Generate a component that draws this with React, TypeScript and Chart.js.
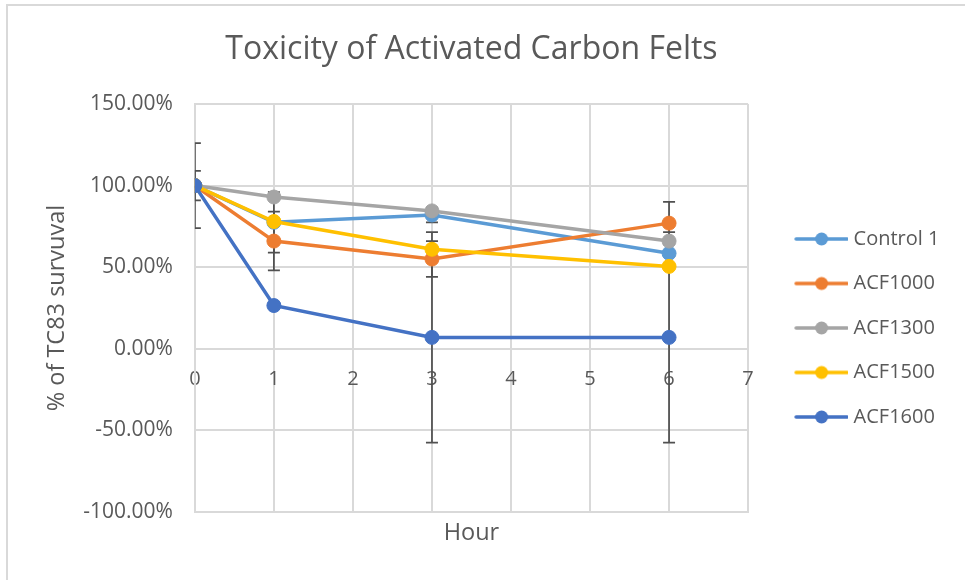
import React, { useEffect, useRef } from "react";
import { Chart, registerables } from "chart.js";

Chart.register(...registerables);

const TITLE = "Toxicity of Activated Carbon Felts";
const X_TITLE = "Hour";
const Y_TITLE = "% of TC83 survuval";

const hours = [0, 1, 3, 6];
const seriesNames = ["Control 1", "ACF1000", "ACF1300", "ACF1500", "ACF1600"];
const seriesColors = ["#5B9BD5", "#ED7D31", "#A5A5A5", "#FFC000", "#4472C4"];

const control1 = [100, 77.5, 82, 58.5];
const acf1000 = [100, 66, 55, 77];
const acf1300 = [100, 93, 84.5, 66];
const acf1500 = [100, 78, 61, 50.5];
const acf1600 = [100, 26.5, 7, 7];

const control1Err = [9, 18.5, 4.5, 0];
const acf1000Err = [0, 18, 11, 13];
const acf1300Err = [0, 0, 0, 0];
const acf1500Err = [0, 0, 0, 0];
const acf1600Err = [26, 0, 64.5, 64.5];

const seriesValues = [control1, acf1000, acf1300, acf1500, acf1600];
const seriesErrors = [control1Err, acf1000Err, acf1300Err, acf1500Err, acf1600Err];

const xMin = 0;
const xMax = 7;
const yMin = -100;
const yMax = 150;
const yStep = 50;

const FONT = '"Open Sans", "DejaVu Sans", sans-serif';
const TEXT = "#595959";
const GRID = "#d9d9d9";

const errorBarPlugin = {
  id: "errorBars",
  beforeDatasetsDraw(chart: any) {
    const { ctx, chartArea, scales } = chart;
    const xs = scales.x;
    const ys = scales.y;
    ctx.save();
    ctx.beginPath();
    ctx.rect(chartArea.left, chartArea.top, chartArea.right - chartArea.left, chartArea.bottom - chartArea.top);
    ctx.clip();
    ctx.strokeStyle = "#505050";
    ctx.lineWidth = 1.75;
    chart.data.datasets.forEach((ds: any) => {
      const errs = ds.errors as number[] | undefined;
      if (!errs) return;
      ds.data.forEach((pt: any, i: number) => {
        const e = errs[i];
        if (!e) return;
        const px = xs.getPixelForValue(pt.x);
        const top = ys.getPixelForValue(pt.y + e);
        const bot = ys.getPixelForValue(pt.y - e);
        ctx.beginPath();
        ctx.moveTo(px, top);
        ctx.lineTo(px, bot);
        ctx.moveTo(px - 6, top);
        ctx.lineTo(px + 6, top);
        ctx.moveTo(px - 6, bot);
        ctx.lineTo(px + 6, bot);
        ctx.stroke();
      });
    });
    ctx.restore();
  },
};

function makeLegendSymbol(color: string) {
  const c = document.createElement("canvas");
  c.width = 80;
  c.height = 16;
  const g = c.getContext("2d")!;
  g.strokeStyle = color;
  g.lineWidth = 3.5;
  g.lineCap = "round";
  g.beginPath();
  g.moveTo(28, 8);
  g.lineTo(79, 8);
  g.stroke();
  g.fillStyle = color;
  g.beginPath();
  g.arc(53.5, 8, 6.5, 0, Math.PI * 2);
  g.fill();
  return c;
}

export default function App() {
  const ref = useRef<HTMLCanvasElement>(null);

  useEffect(() => {
    const canvas = ref.current!;
    const symbols = seriesColors.map(makeLegendSymbol);
    const datasets = seriesNames.map((name, si) => ({
      type: "line" as const,
      label: name,
      data: hours.map((h, i) => ({ x: h, y: seriesValues[si][i] })),
      errors: seriesErrors[si],
      borderColor: seriesColors[si],
      backgroundColor: seriesColors[si],
      pointBackgroundColor: seriesColors[si],
      pointBorderColor: seriesColors[si],
      borderWidth: 3.5,
      pointRadius: 7,
      pointBorderWidth: 1,
      tension: 0,
      order: seriesNames.length - si,
    }));

    const chart = new Chart(canvas, {
      type: "line",
      data: { datasets: datasets as any },
      plugins: [errorBarPlugin as any],
      options: {
        animation: false,
        responsive: false,
        devicePixelRatio: 1,
        color: TEXT,
        font: { family: FONT, size: 20 },
        layout: { padding: { left: 43, right: 15.5, top: 0, bottom: 32.9 } },
        plugins: {
          title: {
            display: true,
            text: TITLE,
            fullSize: false,
            color: TEXT,
            font: { family: FONT, size: 32, weight: "normal" as any, lineHeight: 1.2 },
            padding: { top: 30.8, bottom: 34.8 },
          },
          legend: {
            display: true,
            position: "right",
            fullSize: false,
            align: "center",
            title: { display: true, text: "", padding: 14, font: { size: 10 } },
            labels: {
              usePointStyle: true,
              pointStyleWidth: 71,
              padding: 24.5,
              color: TEXT,
              font: { family: FONT, size: 20 },
              generateLabels: () =>
                seriesNames.map((name, i) => ({
                  text: name,
                  fillStyle: seriesColors[i],
                  strokeStyle: seriesColors[i],
                  lineWidth: 0,
                  pointStyle: symbols[i] as any,
                  hidden: false,
                  datasetIndex: i,
                  fontColor: TEXT,
                })),
            },
          },
          tooltip: { enabled: false },
        },
        scales: {
          x: {
            type: "linear",
            position: "bottom",
            min: xMin,
            max: xMax,
            ticks: { display: false, stepSize: 1 },
            grid: { color: GRID, lineWidth: 2, drawTicks: false },
            border: { display: true, color: GRID, width: 2 },
            title: {
              display: true,
              text: X_TITLE,
              color: TEXT,
              font: { family: FONT, size: 23.5, lineHeight: 1.2 },
              padding: { top: 6.9, bottom: 0 },
            },
          },
          xZero: {
            type: "linear",
            axis: "x",
            position: { y: 0 } as any,
            min: xMin,
            max: xMax,
            ticks: { stepSize: 1, padding: 18, color: TEXT, font: { family: FONT, size: 20 } },
            grid: { display: false, drawTicks: false },
            border: { display: false },
          },
          y: {
            type: "linear",
            position: "left",
            min: yMin,
            max: yMax,
            ticks: {
              stepSize: yStep,
              padding: 0,
              color: TEXT,
              font: { family: FONT, size: 21 },
              callback: (v: any) => Number(v).toFixed(2) + "%",
            },
            grid: { color: GRID, lineWidth: 2, drawTicks: true, tickLength: 22, tickColor: "rgba(0,0,0,0)" },
            border: { display: true, color: GRID, width: 2 },
            title: {
              display: true,
              text: Y_TITLE,
              color: TEXT,
              font: { family: FONT, size: 23.5, lineHeight: 1.2 },
              padding: { top: 0, bottom: 12 },
            },
          },
        } as any,
      },
    });
    return () => chart.destroy();
  }, []);

  return (
    <div
      style={{
        position: "absolute",
        left: 0,
        top: 0,
        width: 965,
        height: 580,
        overflow: "hidden",
        background: "#fff",
      }}
    >
      <div
        style={{
          position: "absolute",
          left: 6,
          top: 4,
          width: 2000,
          height: 2000,
          border: "2px solid #d9d9d9",
        }}
      />
      <canvas
        ref={ref}
        width={965}
        height={580}
        style={{ position: "absolute", left: 0, top: 0, display: "block" }}
      />
    </div>
  );
}
